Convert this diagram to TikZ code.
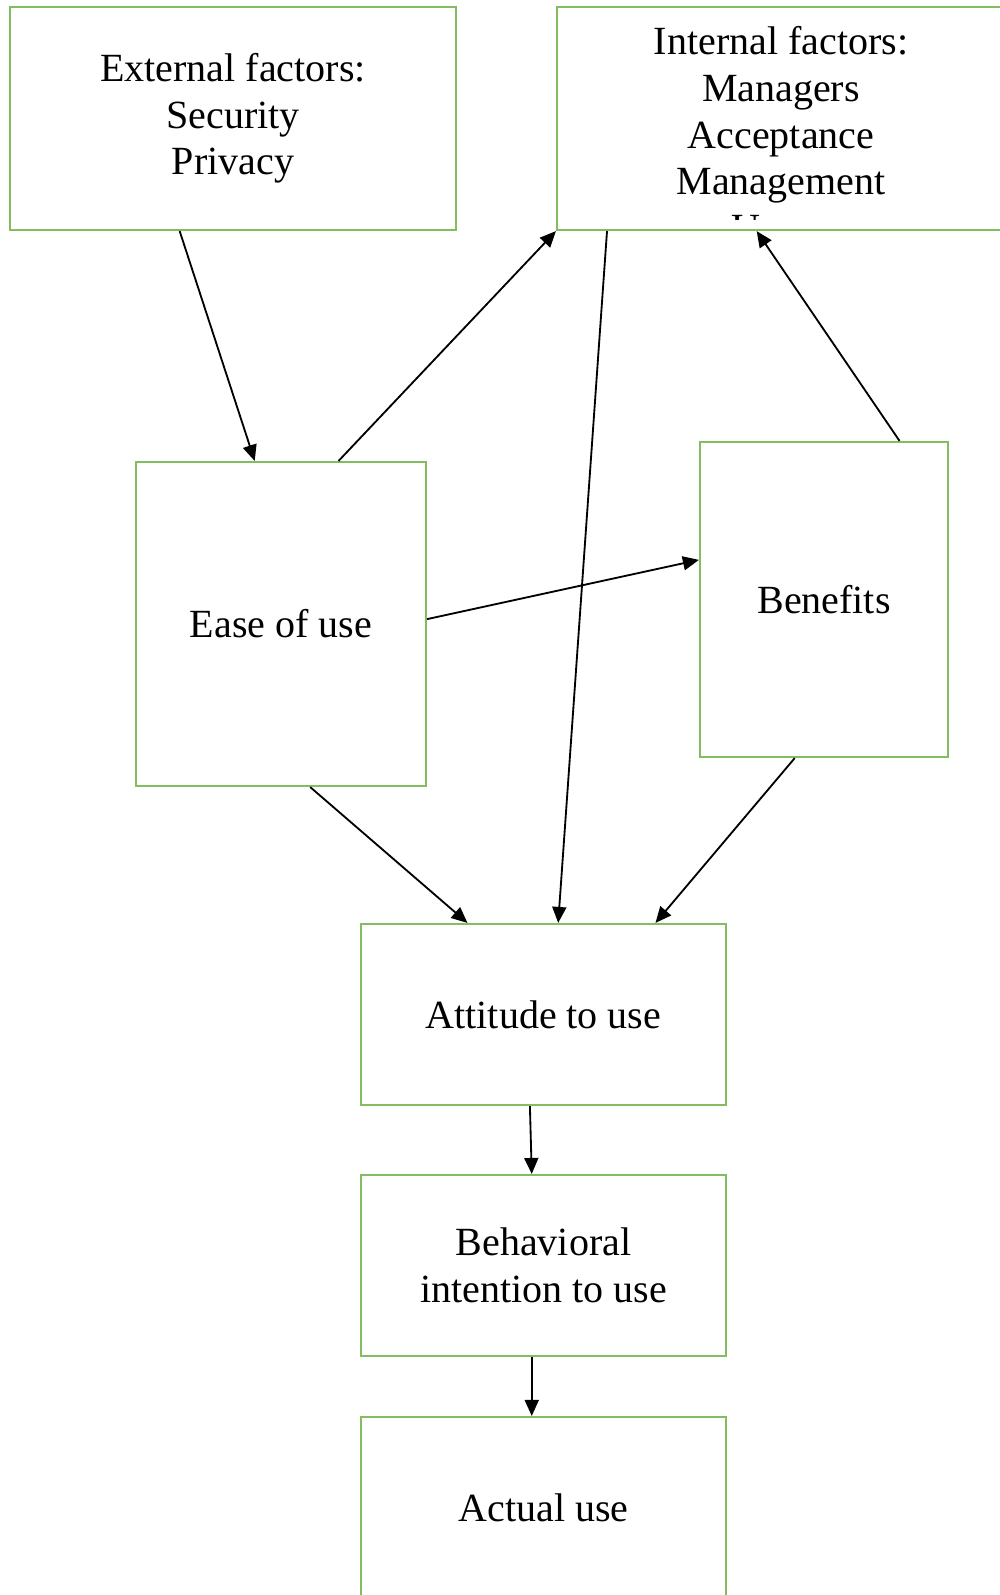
\documentclass[tikz,border=0pt]{standalone}
\usepackage{fontspec}
\setmainfont{Liberation Serif}
\usepackage{tikz}
\usetikzlibrary{arrows.meta,calc}

\definecolor{boxgreen}{RGB}{130,190,95}
\tikzset{
  factor/.style={draw=boxgreen, line width=0.65pt, align=center, inner sep=0pt,
    font=\fontsize{12}{14}\selectfont},
  wide/.style={minimum width=109.5pt, minimum height=54.3pt},
  link/.style={-{Triangle[length=4.8pt,width=4.2pt]}, line width=0.55pt},
}

\begin{document}
\begin{tikzpicture}[x=0.3pt, y=-0.3pt]
  \useasboundingbox (0,0) rectangle (1000,1595);
  \clip (0,0) rectangle (1000,1595);

  \node[factor, minimum width=133.8pt, minimum height=66.9pt] (ext) at (233,118.5)
    {External factors:\\Security\\Privacy};
  \node[factor, minimum width=135pt, minimum height=66.9pt] (int) at (782,118.5) {};
  \begin{scope}
    \clip (557,7) rectangle (1007,219);
    \node[align=center, anchor=north, inner sep=0pt, font=\fontsize{12}{14}\selectfont]
      (intlist) at (781,26) {Internal factors:\\Managers\\Acceptance\\Management\\Usage};
  \end{scope}
  \node[factor, minimum width=87pt, minimum height=97.2pt] (ease) at (281,624) {Ease of use};
  \node[factor, minimum width=74.4pt, minimum height=94.5pt] (ben) at (824,599.5) {Benefits};
  \node[factor, wide] (att) at (543.5,1014.5) {Attitude to use};
  \node[factor, wide] (beh) at (543.5,1265.5) {Behavioral\\intention to use};
  \node[factor, wide] (act) at (543.5,1507.5) {Actual use};

  \path[link]
  ($(ext.south west)!0.381!(ext.south east)$) edge ($(ease.north west)!0.41!(ease.north east)$)
  ($(ease.north west)!0.697!(ease.north east)$) edge (int.south west)
  ($(int.south west)!0.113!(int.south east)$) edge ($(att.north west)!0.54!(att.north east)$)
  ($(ben.north west)!0.802!(ben.north east)$) edge ($(int.south west)!0.444!(int.south east)$)
  ($(ease.north east)!0.485!(ease.south east)$) edge ($(ben.north west)!0.375!(ben.south west)$)
  ($(ease.south west)!0.6!(ease.south east)$) edge ($(att.north west)!0.293!(att.north east)$)
  ($(ben.south west)!0.383!(ben.south east)$) edge ($(att.north west)!0.805!(att.north east)$)
  ($(att.south west)!0.463!(att.south east)$) edge ($(beh.north west)!0.468!(beh.north east)$)
  ($(beh.south west)!0.468!(beh.south east)$) edge ($(act.north west)!0.468!(act.north east)$)
  ;
\end{tikzpicture}
\end{document}
